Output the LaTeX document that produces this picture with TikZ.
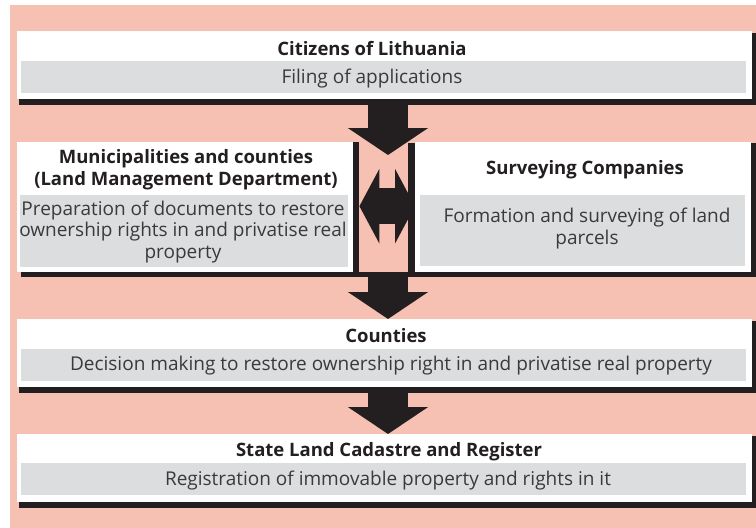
\documentclass[tikz,border=0pt]{standalone}
\usepackage{fontspec}
\setmainfont{Open Sans}
\usetikzlibrary{arrows.meta,calc}
\definecolor{pinkbg}{HTML}{F6C1B2}
\definecolor{bandgray}{HTML}{DCDDDF}
\definecolor{darkfill}{HTML}{231F20}
\definecolor{bodytext}{HTML}{3A3A3A}
\tikzset{
  whitebox/.style={fill=white, inner sep=0pt, anchor=north west, draw=none},
  band/.style={fill=bandgray, inner sep=0pt, anchor=north west, draw=none},
  titletext/.style={anchor=base, inner sep=0pt, align=center, text=darkfill,
    font=\fontsize{18.5}{21.5}\selectfont\bfseries},
  bodytext/.style={anchor=base, inner sep=0pt, align=center, text=bodytext,
    font=\fontsize{19}{21.5}\selectfont},
  shadowfill/.style={fill=darkfill},
  bigdown/.style={draw=darkfill, line width=40pt,
    -{Triangle[width=79pt,length=27pt,fill=darkfill]}},
  bigboth/.style={draw=darkfill, line width=36pt,
    {Triangle[width=74pt,length=20pt,fill=darkfill]}-{Triangle[width=74pt,length=20pt,fill=darkfill]}}
}
\begin{document}
\begin{tikzpicture}[x=1pt,y=-1pt]
\useasboundingbox (0,0) rectangle (756,528);
\fill[pinkbg] (10,5) rectangle (756,528);

% coordinates for arrows
\coordinate (ax) at (388,0);
\coordinate (tip1) at (388,155);

% boxes (white)
\node[whitebox, minimum width=735pt, minimum height=68pt] (cit) at (17,31) {};
\node[whitebox, minimum width=336pt, minimum height=130pt] (mun) at (17,142) {};
\node[whitebox, minimum width=336pt, minimum height=130pt] (sur) at (415,142) {};
\node[whitebox, minimum width=735pt, minimum height=68pt] (cou) at (17,319) {};
\node[whitebox, minimum width=735pt, minimum height=68pt] (sta) at (17,434) {};

% arrows
\draw[bigdown] (cit.south -| ax) -- (tip1);
\draw[bigdown] (mun.south -| ax) -- (cou.north -| ax);
\draw[bigdown] (cou.south -| ax) -- (sta.north -| ax);

% shadows
\fill[shadowfill] ($(cit.north west)+(2,2)$) rectangle ($(cit.south east)+(4,6)$);
\fill[shadowfill] ($(mun.north west)+(4,0)$) rectangle ($(mun.south east)+(6,5)$);
\fill[shadowfill] ($(mun.south east)+(-3,0)$) rectangle ($(sur.south west)+(22,5)$);
\fill[shadowfill] ($(sur.north west)+(-7,1)$) rectangle ($(sur.south east)+(5,5)$);
\fill[shadowfill] ($(cou.north west)+(2,2)$) rectangle ($(cou.south east)+(4,6)$);
\fill[shadowfill] ($(sta.north west)+(2,2)$) rectangle ($(sta.south east)+(4,6)$);

% redraw white boxes on top of shadows
\foreach \b in {cit,mun,sur,cou,sta}{
  \fill[white] (\b.north west) rectangle (\b.south east);
}

% double arrow between middle boxes
\coordinate (dl) at ($(mun.east)+(6,-1)$);
\draw[bigboth] (dl) -- (sur.west |- dl);

% gray bands
\node[band, minimum width=725pt, minimum height=32pt] (citb) at (21,61) {};
\node[band, minimum width=328pt, minimum height=72pt] (munb) at (20,195) {};
\node[band, minimum width=325pt, minimum height=71pt] (surb) at (420,195) {};
\node[band, minimum width=725pt, minimum height=32pt] (coub) at (21,349) {};
\node[band, minimum width=725pt, minimum height=32pt] (stab) at (21,463) {};

% texts (multi-line: base = last line)
\node[titletext] (citt) at (372,55) {Citizens of Lithuania};
\node[bodytext] (citx) at (372,83) {Filing of applications};
\node[titletext] (munt) at (186,185) {Municipalities and counties\\(Land Management Department)};
\node[bodytext] (munx) at (183,258) {Preparation of documents to restore\\ownership rights in and privatise real\\property};
\node[titletext] (surt) at (585,174) {Surveying Companies};
\node[bodytext] (surx) at (587,244) {Formation and surveying of land\\parcels};
\node[titletext] (cout) at (386,342) {Counties};
\node[bodytext] (coux) at (391,370) {Decision making to restore ownership right in and privatise real property};
\node[titletext] (stat) at (389,456) {State Land Cadastre and Register};
\node[bodytext] (stax) at (388,485) {Registration of immovable property and rights in it};
\end{tikzpicture}
\end{document}
